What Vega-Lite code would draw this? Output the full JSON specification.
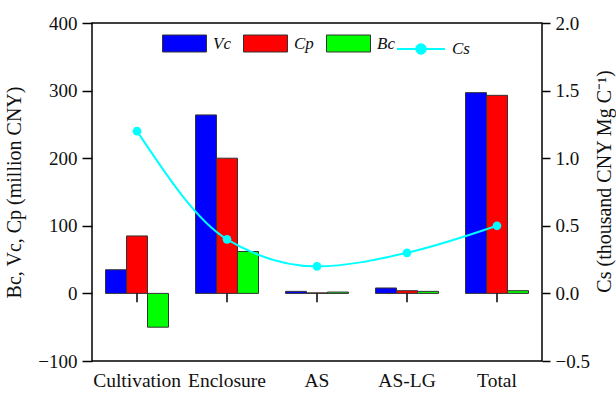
{
  "$schema": "https://vega.github.io/schema/vega-lite/v6.json",
  "width": 450,
  "height": 338,
  "autosize": "none",
  "padding": {"left": 92, "top": 23, "right": 74, "bottom": 33},
  "background": "white",
  "config": {
    "view": {"stroke": "black", "strokeWidth": 1.5},
    "font": "Liberation Serif",
    "axis": {
      "labelFont": "Liberation Serif",
      "titleFont": "Liberation Serif",
      "labelColor": "#111",
      "titleColor": "#111",
      "grid": false,
      "domain": false,
      "tickColor": "black",
      "tickWidth": 1.5,
      "titleFontWeight": "normal",
      "labelFontSize": 19,
      "titleFontSize": 20
    },
    "legend": {
      "labelFont": "Liberation Serif",
      "labelFontSize": 17,
      "labelFontStyle": "italic",
      "labelColor": "#111"
    }
  },
  "datasets": {
    "bars": [
      {"category": "Cultivation", "series": "Vc", "value": 35},
      {"category": "Cultivation", "series": "Cp", "value": 85},
      {"category": "Cultivation", "series": "Bc", "value": -50},
      {"category": "Enclosure", "series": "Vc", "value": 264},
      {"category": "Enclosure", "series": "Cp", "value": 200},
      {"category": "Enclosure", "series": "Bc", "value": 62},
      {"category": "AS", "series": "Vc", "value": 3},
      {"category": "AS", "series": "Cp", "value": 0.8},
      {"category": "AS", "series": "Bc", "value": 2},
      {"category": "AS-LG", "series": "Vc", "value": 8},
      {"category": "AS-LG", "series": "Cp", "value": 4},
      {"category": "AS-LG", "series": "Bc", "value": 3},
      {"category": "Total", "series": "Vc", "value": 297},
      {"category": "Total", "series": "Cp", "value": 293},
      {"category": "Total", "series": "Bc", "value": 4}
    ],
    "cs": [
      {"category": "Cultivation", "cs": 1.2},
      {"category": "Enclosure", "cs": 0.4},
      {"category": "AS", "cs": 0.2},
      {"category": "AS-LG", "cs": 0.3},
      {"category": "Total", "cs": 0.5}
    ]
  },
  "layer": [
    {
      "layer": [
        {
          "data": {"name": "bars"},
          "mark": {"type": "bar", "stroke": "#333", "strokeWidth": 1},
          "encoding": {
            "x": {
              "field": "category",
              "type": "nominal",
              "scale": {"domain": ["Cultivation", "Enclosure", "AS", "AS-LG", "Total"], "paddingInner": 0.3, "paddingOuter": 0.15},
              "axis": {"title": null, "labelAngle": 0, "ticks": false, "labelPadding": 10, "labelFontSize": 19.5}
            },
            "xOffset": {"field": "series", "type": "nominal", "scale": {"domain": ["Vc", "Cp", "Bc"]}},
            "y": {
              "field": "value",
              "type": "quantitative",
              "scale": {"domain": [-100, 400], "nice": false, "zero": false},
              "axis": {"title": "Bc, Vc, Cp (million CNY)", "values": [-100, 0, 100, 200, 300, 400], "tickSize": 10, "labelPadding": 5, "titlePadding": 13}
            },
            "fill": {
              "field": "series",
              "type": "nominal",
              "scale": {"domain": ["Vc", "Cp", "Bc"], "range": ["#0000FF", "#FF0000", "#00FF00"]},
              "legend": {
                "title": null,
                "orient": "none",
                "legendX": 70,
                "legendY": -2,
                "direction": "horizontal",
                "symbolType": "M-1,-0.386H1V0.386H-1Z",
                "symbolSize": 1936,
                "symbolStrokeColor": "#333",
                "symbolStrokeWidth": 1,
                "labelOffset": 6,
                "columnPadding": 10
              }
            }
          }
        },
        {
          "mark": {"type": "rule", "color": "black", "strokeWidth": 1.5},
          "encoding": {"y": {"datum": 0, "type": "quantitative"}}
        },
        {
          "data": {"name": "cs"},
          "mark": {"type": "rule", "color": "black", "strokeWidth": 1.5},
          "encoding": {
            "x": {"field": "category", "type": "nominal"},
            "y": {"datum": 0, "type": "quantitative"},
            "y2": {"datum": -13}
          }
        }
      ]
    },
    {
      "data": {"name": "cs"},
      "layer": [
        {
          "mark": {"type": "line", "interpolate": "monotone", "strokeWidth": 2},
          "encoding": {
            "x": {"field": "category", "type": "nominal"},
            "y": {
              "field": "cs",
              "type": "quantitative",
              "scale": {"domain": [-0.5, 2], "nice": false, "zero": false},
              "axis": {"orient": "right", "title": "Cs (thousand CNY Mg C⁻¹)", "values": [-0.5, 0, 0.5, 1, 1.5, 2], "format": ".1f", "tickSize": 8, "labelPadding": 5, "titleAngle": -90, "titleBaseline": "top", "titleAlign": "center", "titleY": 158, "titlePadding": 5}
            },
            "stroke": {
              "datum": "Cs",
              "scale": {"domain": ["Cs"], "range": ["#00FFFF"]},
              "legend": {
                "title": null,
                "orient": "none",
                "legendX": 304,
                "legendY": 1,
                "symbolType": "M-1,0H1M-0.2,0A0.2,0.2 0 1,1 0.2,0A0.2,0.2 0 1,1 -0.2,0Z",
                "symbolSize": 2304,
                "symbolFillColor": "#00FFFF",
                "symbolStrokeColor": "#00FFFF",
                "symbolStrokeWidth": 2,
                "labelOffset": 6
              }
            }
          }
        },
        {
          "mark": {"type": "point", "filled": true, "size": 75, "color": "#00FFFF", "opacity": 1},
          "encoding": {
            "x": {"field": "category", "type": "nominal"},
            "y": {"field": "cs", "type": "quantitative"}
          }
        }
      ]
    }
  ],
  "resolve": {"scale": {"y": "independent"}}
}
